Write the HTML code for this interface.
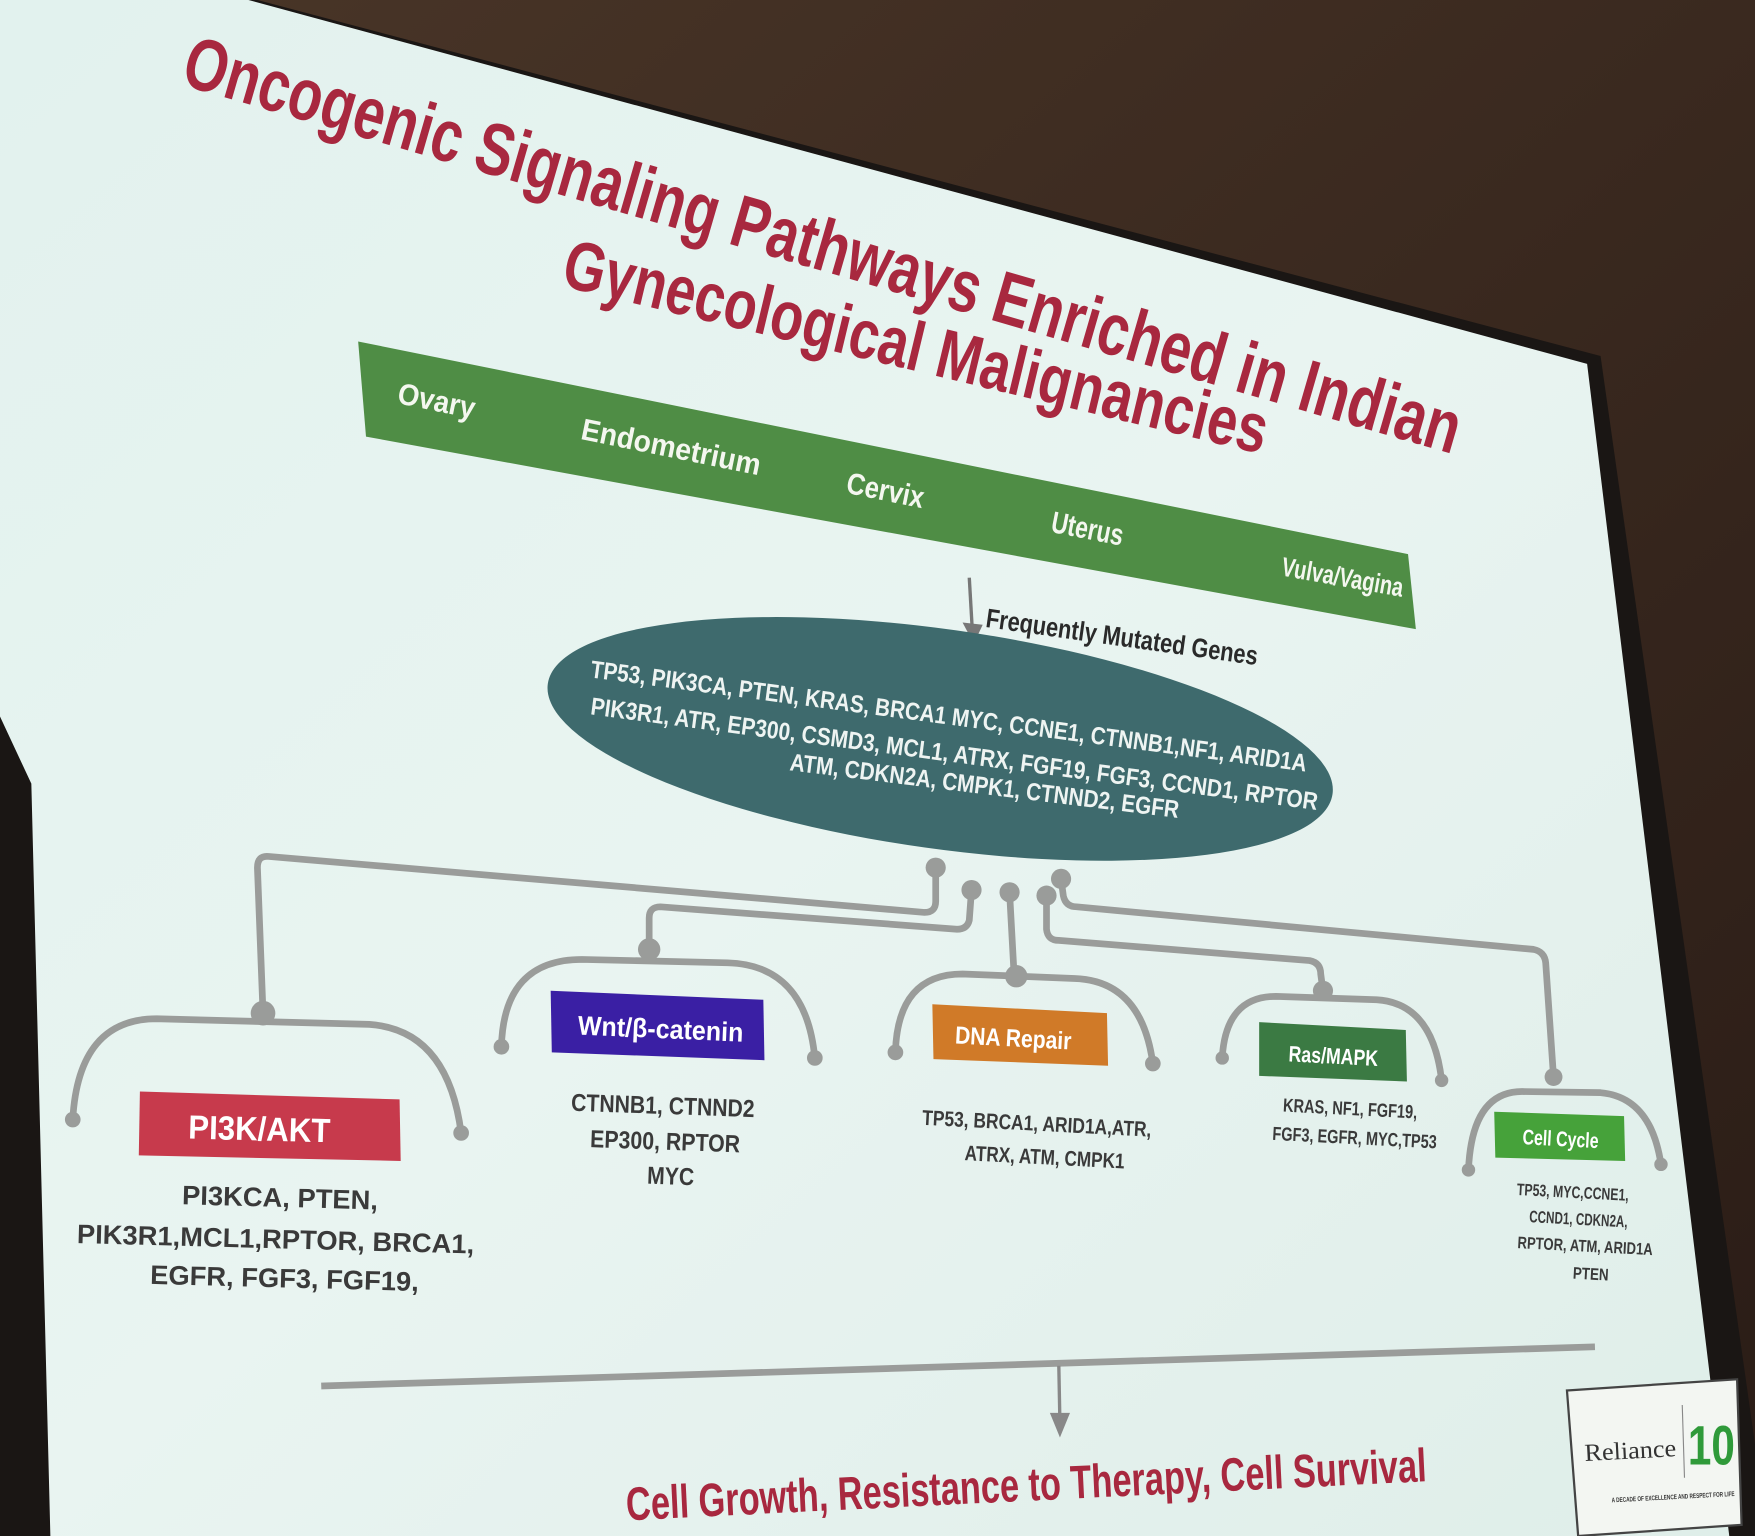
<!DOCTYPE html>
<html><head><meta charset="utf-8">
<style>
html,body{margin:0;padding:0;background:#3a2a22;}
svg{display:block;}
text{font-family:"Liberation Sans",sans-serif;font-weight:bold;}
</style></head>
<body>
<svg width="1755" height="1536" viewBox="0 0 1568 1372" preserveAspectRatio="none" xmlns="http://www.w3.org/2000/svg">
<defs>
<linearGradient id="room" x1="0" y1="0" x2="1" y2="1">
<stop offset="0" stop-color="#4a3628"/><stop offset="1" stop-color="#2a1c16"/>
</linearGradient>
<linearGradient id="slide" x1="0" y1="0" x2="1" y2="1">
<stop offset="0" stop-color="#e2f2ee"/><stop offset="0.5" stop-color="#e9f4f1"/><stop offset="1" stop-color="#dfeee9"/>
</linearGradient>
</defs>
<rect width="1568" height="1372" fill="url(#room)"/>
<polygon points="150,0 230,0 1430,318 1568,1290 1568,1372 0,1372 0,0" fill="#1a1614"/>
<polygon points="0,0 222,0 1418,325 1545,1372 45,1372 28,700 0,640" fill="url(#slide)"/>
<!-- Title -->
<text x="160" y="75" font-size="66" fill="#a8283f" transform="rotate(16.2 160 75)" textLength="1185" lengthAdjust="spacingAndGlyphs">Oncogenic Signaling Pathways Enriched in Indian</text>
<text x="500" y="255" font-size="62" fill="#a8283f" transform="rotate(13.5 500 255)" textLength="645" lengthAdjust="spacingAndGlyphs">Gynecological Malignancies</text>
<!-- green bar -->
<polygon points="320,305 1258,495 1265,562 327,390" fill="#4f8d45"/>
<g fill="#f4f7ef" font-size="27">
<text x="354" y="360" transform="rotate(11.5 354 360)" textLength="70" lengthAdjust="spacingAndGlyphs">Ovary</text>
<text x="518" y="392" transform="rotate(11.5 518 392)" textLength="163" lengthAdjust="spacingAndGlyphs">Endometrium</text>
<text x="755" y="440" transform="rotate(11.5 755 440)" textLength="70" lengthAdjust="spacingAndGlyphs">Cervix</text>
<text x="938" y="475" transform="rotate(11 938 475)" textLength="65" lengthAdjust="spacingAndGlyphs">Uterus</text>
<text x="1144" y="514" transform="rotate(10 1144 514)" font-size="24" textLength="110" lengthAdjust="spacingAndGlyphs">Vulva/Vagina</text>
</g>
<line x1="866" y1="516" x2="869" y2="568" stroke="#777" stroke-width="3"/>
<polygon points="860,556 878,558 870,575" fill="#777"/>
<text x="880" y="560" font-size="24" fill="#2a2a2a" transform="rotate(8 880 560)" textLength="245" lengthAdjust="spacingAndGlyphs">Frequently Mutated Genes</text>
<!-- ellipse -->
<ellipse cx="840" cy="660" rx="354" ry="98" fill="#3e6a6d" transform="rotate(8 840 660)"/>
<g fill="#eef4f2" font-size="22">
<text x="527" y="605" transform="rotate(7.5 527 605)" textLength="645" lengthAdjust="spacingAndGlyphs">TP53, PIK3CA, PTEN, KRAS, BRCA1 MYC, CCNE1, CTNNB1,NF1, ARID1A</text>
<text x="527" y="638" transform="rotate(7.5 527 638)" textLength="655" lengthAdjust="spacingAndGlyphs">PIK3R1, ATR, EP300, CSMD3, MCL1, ATRX, FGF19, FGF3, CCND1, RPTOR</text>
<text x="705" y="688" transform="rotate(7 705 688)" textLength="350" lengthAdjust="spacingAndGlyphs">ATM, CDKN2A, CMPK1, CTNND2, EGFR</text>
</g>
<!-- connectors -->
<g stroke="#9a9c9a" stroke-width="6" fill="none" stroke-linecap="round">
<path d="M836,775 L836,805 Q836,815 826,815 L240,765 Q230,764 230,775 L235,905"/>
<path d="M868,795 L866,822 Q864,830 855,830 L590,810 Q580,810 580,820 L580,848"/>
<path d="M902,797 L906,870"/>
<path d="M935,800 L935,830 Q936,840 946,840 L1170,858 Q1180,860 1180,870 L1182,885"/>
<path d="M948,785 L950,800 Q952,810 962,810 L1370,848 Q1380,850 1381,860 L1388,962"/>
<path d="M65,1000 Q70,910 140,910 L330,915 Q400,920 412,1012"/>
<path d="M448,935 Q450,857 520,857 L650,860 Q720,862 728,945"/>
<path d="M800,940 Q802,870 860,870 L960,874 Q1020,876 1030,950"/>
<path d="M1092,945 Q1095,890 1140,890 L1230,893 Q1280,896 1288,965"/>
<path d="M1312,1045 Q1315,975 1360,975 L1430,976 Q1475,980 1484,1040"/>
</g>
<g fill="#9a9c9a">
<circle cx="836" cy="775" r="9"/><circle cx="868" cy="795" r="9"/><circle cx="902" cy="797" r="9"/><circle cx="935" cy="800" r="9"/><circle cx="948" cy="785" r="9"/>
<circle cx="235" cy="905" r="11"/><circle cx="580" cy="848" r="10"/><circle cx="908" cy="872" r="10"/><circle cx="1182" cy="885" r="9"/><circle cx="1388" cy="962" r="8"/>
<circle cx="65" cy="1000" r="7"/><circle cx="412" cy="1012" r="7"/><circle cx="448" cy="935" r="7"/><circle cx="728" cy="945" r="7"/><circle cx="800" cy="940" r="7"/><circle cx="1030" cy="950" r="7"/><circle cx="1092" cy="945" r="6"/><circle cx="1288" cy="965" r="6"/><circle cx="1312" cy="1045" r="6"/><circle cx="1484" cy="1040" r="6"/>
</g>
<!-- boxes -->
<polygon points="125,975 357,982 358,1037 124,1032" fill="#c73a4c"/>
<text x="168" y="1017" font-size="30" fill="#fff" transform="rotate(1.5 168 1017)" textLength="127" lengthAdjust="spacingAndGlyphs">PI3K/AKT</text>
<polygon points="492,885 682,893 683,947 493,940" fill="#3a1fa4"/>
<text x="516" y="924" font-size="24" fill="#fff" transform="rotate(2.5 516 924)" textLength="148" lengthAdjust="spacingAndGlyphs">Wnt/β-catenin</text>
<polygon points="833,897 989,905 990,952 834,946" fill="#d07a28"/>
<text x="853" y="932" font-size="22" fill="#fff" transform="rotate(3 853 932)" textLength="104" lengthAdjust="spacingAndGlyphs">DNA Repair</text>
<polygon points="1125,913 1256,920 1257,966 1125,961" fill="#3b7a43"/>
<text x="1151" y="948" font-size="20" fill="#fff" transform="rotate(3 1151 948)" textLength="80" lengthAdjust="spacingAndGlyphs">Ras/MAPK</text>
<polygon points="1335,993 1451,997 1452,1037 1336,1034" fill="#46a23a"/>
<text x="1360" y="1022" font-size="19" fill="#fff" transform="rotate(3 1360 1022)" textLength="68" lengthAdjust="spacingAndGlyphs">Cell Cycle</text>
<!-- gene lists -->
<g fill="#3a3a3a" font-size="24" text-anchor="middle" lengthAdjust="spacingAndGlyphs">
<text x="250" y="1078" transform="rotate(1.5 250 1078)" textLength="175" lengthAdjust="spacingAndGlyphs">PI3KCA, PTEN,</text>
<text x="246" y="1115" transform="rotate(1.5 246 1115)" textLength="355" lengthAdjust="spacingAndGlyphs">PIK3R1,MCL1,RPTOR, BRCA1,</text>
<text x="254" y="1150" transform="rotate(1.5 254 1150)" textLength="240" lengthAdjust="spacingAndGlyphs">EGFR, FGF3, FGF19,</text>
<text x="592" y="995" font-size="22" transform="rotate(2 592 995)" textLength="164" lengthAdjust="spacingAndGlyphs">CTNNB1, CTNND2</text>
<text x="594" y="1027" font-size="22" transform="rotate(2 594 1027)" textLength="134" lengthAdjust="spacingAndGlyphs">EP300, RPTOR</text>
<text x="599" y="1058" font-size="22" transform="rotate(2 599 1058)" textLength="42" lengthAdjust="spacingAndGlyphs">MYC</text>
<text x="926" y="1010" font-size="19" transform="rotate(3 926 1010)" textLength="205" lengthAdjust="spacingAndGlyphs">TP53, BRCA1, ARID1A,ATR,</text>
<text x="933" y="1040" font-size="19" transform="rotate(3 933 1040)" textLength="143" lengthAdjust="spacingAndGlyphs">ATRX, ATM, CMPK1</text>
<text x="1206" y="996" font-size="17" transform="rotate(3 1206 996)" textLength="120" lengthAdjust="spacingAndGlyphs">KRAS, NF1, FGF19,</text>
<text x="1210" y="1022" font-size="17" transform="rotate(3 1210 1022)" textLength="147" lengthAdjust="spacingAndGlyphs">FGF3, EGFR, MYC,TP53</text>
<text x="1405" y="1070" font-size="15" transform="rotate(3 1405 1070)" textLength="100" lengthAdjust="spacingAndGlyphs">TP53, MYC,CCNE1,</text>
<text x="1410" y="1094" font-size="15" transform="rotate(3 1410 1094)" textLength="88" lengthAdjust="spacingAndGlyphs">CCND1, CDKN2A,</text>
<text x="1416" y="1118" font-size="15" transform="rotate(3 1416 1118)" textLength="121" lengthAdjust="spacingAndGlyphs">RPTOR, ATM, ARID1A</text>
<text x="1421" y="1143" font-size="15" transform="rotate(3 1421 1143)" textLength="32" lengthAdjust="spacingAndGlyphs">PTEN</text>
</g>
<!-- bottom line -->
<line x1="287" y1="1238" x2="1425" y2="1203" stroke="#9a9c9a" stroke-width="6"/>
<line x1="946" y1="1220" x2="947" y2="1272" stroke="#888" stroke-width="3"/>
<polygon points="938,1262 956,1262 947,1284" fill="#888"/>
<text x="560" y="1358" font-size="42" fill="#a8283f" transform="rotate(-2.8 560 1358)" textLength="716" lengthAdjust="spacingAndGlyphs">Cell Growth, Resistance to Therapy, Cell Survival</text>
<!-- logo -->
<polygon points="1400,1242 1552,1232 1556,1362 1410,1372" fill="#f3f6f2" stroke="#444" stroke-width="2"/>
<text x="1416" y="1305" font-size="22" fill="#333" font-family="Liberation Serif" style="font-weight:normal;font-family:'Liberation Serif',serif" transform="rotate(-3 1416 1305)" textLength="82" lengthAdjust="spacingAndGlyphs">Reliance</text>
<line x1="1503" y1="1255" x2="1505" y2="1320" stroke="#888" stroke-width="1"/>
<text x="1508" y="1308" font-size="50" fill="#2f9a3a" textLength="42" lengthAdjust="spacingAndGlyphs">10</text>
<text x="1440" y="1342" font-size="6" fill="#333" transform="rotate(-3 1440 1342)" textLength="110" lengthAdjust="spacingAndGlyphs">A DECADE OF EXCELLENCE AND RESPECT FOR LIFE</text>
</svg>
</body></html>
